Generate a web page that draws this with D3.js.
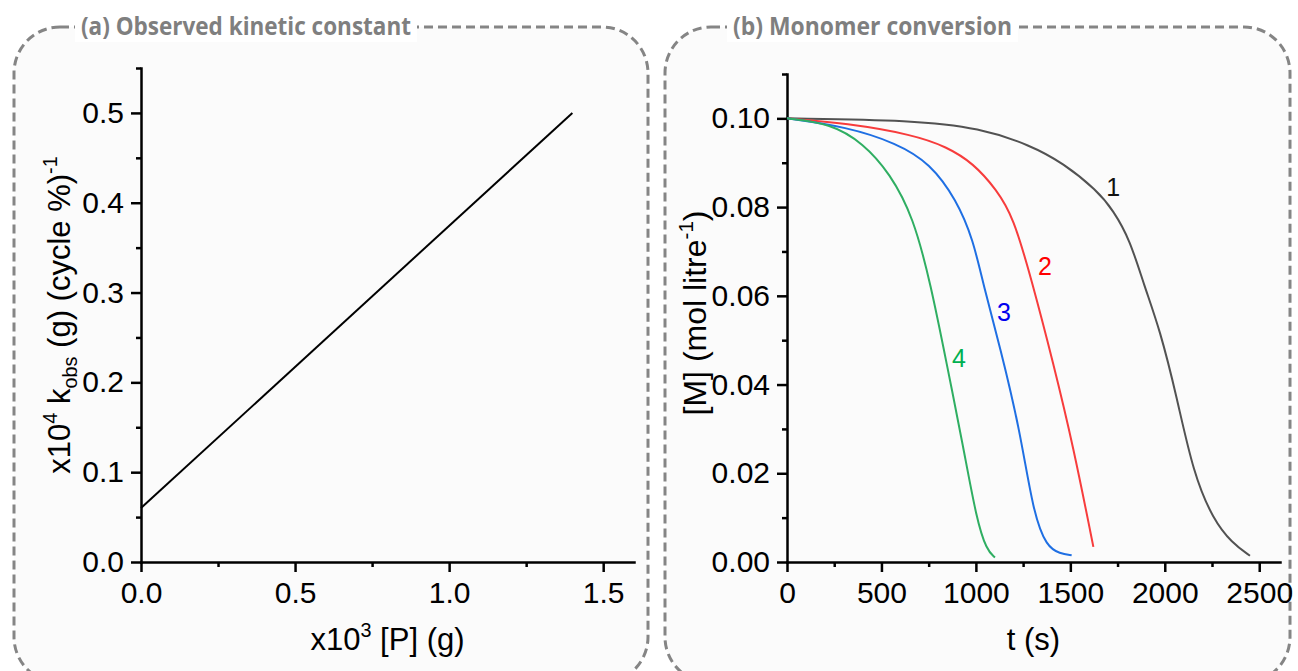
<!DOCTYPE html>
<html>
<head>
<meta charset="utf-8">
<script src="https://cdn.jsdelivr.net/npm/d3@7"></script>
<style>
  html, body { margin: 0; padding: 0; background: #ffffff; }
  svg { display: block; }
  text { font-family: "Liberation Sans", Arial, sans-serif; }
</style>
</head>
<body>
<svg id="chart" width="1298" height="671"></svg>
<script>
// ---------- Panel (a): observed kinetic constant vs. [P] ----------
const kinP = [0.0, 1.4];              // x10^3 [P] (g)
const kinK = [0.06, 0.50];            // x10^4 k_obs
const aXMajor = [0, 0.5, 1.0, 1.5];
const aXMinor = [0.25, 0.75, 1.25];
const aYMajor = [0, 0.1, 0.2, 0.3, 0.4, 0.5];
const aYMinor = [0.05, 0.15, 0.25, 0.35, 0.45, 0.55];

// ---------- Panel (b): monomer concentration vs. time ----------
const curve1T = [0, 669, 1022, 1286, 1463, 1640, 1727, 1816, 1890, 1975, 2063, 2151, 2257, 2356, 2451];
const curve1M = [0.1000, 0.0996, 0.0978, 0.0940, 0.0899, 0.0838, 0.0793, 0.0726, 0.0624, 0.0523, 0.0373, 0.0200, 0.0095, 0.0043, 0.0014];
const curve2T = [0, 316, 669, 845, 986, 1110, 1198, 1295, 1410, 1516, 1622];
const curve2M = [0.1000, 0.0989, 0.0963, 0.0936, 0.0899, 0.0839, 0.0778, 0.0636, 0.0448, 0.0260, 0.0034];
const curve3T = [0, 316, 581, 757, 898, 986, 1040, 1128, 1233, 1304, 1375, 1445, 1507];
const curve3M = [0.1000, 0.0981, 0.0944, 0.0899, 0.0816, 0.0726, 0.0624, 0.0485, 0.0298, 0.0110, 0.0034, 0.0019, 0.0015];
const curve4T = [0, 228, 404, 545, 669, 762, 845, 933, 1004, 1057, 1101];
const curve4M = [0.1000, 0.0989, 0.0944, 0.0876, 0.0778, 0.0624, 0.0448, 0.0260, 0.0095, 0.0027, 0.0010];
const curveNames = ["1", "2", "3", "4"];
const bXMajor = [0, 500, 1000, 1500, 2000, 2500];
const bXMinor = [250, 750, 1250, 1750, 2250];
const bYMajor = [0, 0.02, 0.04, 0.06, 0.08, 0.10];
const bYMinor = [0.01, 0.03, 0.05, 0.07, 0.09, 0.11];

const svg = d3.select("#chart");
const TICK_FS = 30, LABEL_FS = 31;

// ---------- dashed rounded frames with titles ----------
function frame(x0, x1, title, tx, tw) {
  svg.append("rect")
    .attr("x", x0).attr("y", 27)
    .attr("width", x1 - x0).attr("height", 656)
    .attr("rx", 46).attr("ry", 46)
    .attr("fill", "#fbfbfb")
    .attr("stroke", "#858585")
    .attr("stroke-width", 3)
    .attr("stroke-dasharray", "9,5");
  svg.append("rect")
    .attr("x", tx - 6).attr("y", 10)
    .attr("width", tw + 12).attr("height", 32)
    .attr("fill", "#ffffff");
  svg.append("text")
    .attr("x", tx).attr("y", 35)
    .attr("textLength", tw)
    .attr("lengthAdjust", "spacingAndGlyphs")
    .style("font-family", "'Open Sans', 'Noto Sans', sans-serif")
    .style("font-weight", "700")
    .style("font-size", "25px")
    .attr("fill", "#7f7f7f")
    .text(title);
}
frame(14, 648, "(a) Observed kinetic constant", 81, 330);
frame(665, 1290, "(b) Monomer conversion", 733, 279);

// ---------- rich text helper (superscripts / subscripts) ----------
function rich(textSel, parts, fs) {
  let shift = 0;
  parts.forEach(p => {
    const target = p.sup ? -0.42 * fs : p.sub ? 0.22 * fs : 0;
    textSel.append("tspan")
      .attr("dy", target - shift)
      .style("font-size", (p.sup || p.sub) ? (0.64 * fs) + "px" : fs + "px")
      .text(p.t);
    shift = target;
  });
}

// ---------- axis helper ----------
function drawAxes(x, y, xMaj, xMin, yMaj, yMin, xFmt, yFmt) {
  const g = svg.append("g");
  g.append("g").attr("transform", `translate(0,${y.range()[0]})`)
    .call(d3.axisBottom(x).tickValues(xMaj).tickSize(10).tickSizeOuter(0).tickPadding(10).tickFormat(xFmt));
  g.append("g").attr("transform", `translate(0,${y.range()[0]})`)
    .call(d3.axisBottom(x).tickValues(xMin).tickSize(5).tickSizeOuter(0).tickFormat(""))
    .select(".domain").remove();
  g.append("g").attr("transform", `translate(${x.range()[0]},0)`)
    .call(d3.axisLeft(y).tickValues(yMaj).tickSize(10).tickSizeOuter(0).tickPadding(7).tickFormat(yFmt));
  g.append("g").attr("transform", `translate(${x.range()[0]},0)`)
    .call(d3.axisLeft(y).tickValues(yMin).tickSize(5).tickSizeOuter(0).tickFormat(""))
    .select(".domain").remove();
  g.selectAll("path.domain, .tick line")
    .attr("stroke", "#000").attr("stroke-width", 2.5);
  g.selectAll("path.domain").attr("stroke-linecap", "square");
  g.selectAll(".tick text")
    .style("font-family", "'Liberation Sans', Arial, sans-serif")
    .style("font-size", TICK_FS + "px")
    .attr("fill", "#000");
  return g;
}

// ---------- Panel (a) ----------
const xA = d3.scaleLinear().domain([0, 1.6]).range([141, 634]);
const yA = d3.scaleLinear().domain([0, 0.55]).range([562, 68]);
drawAxes(xA, yA, aXMajor, aXMinor, aYMajor, aYMinor, d3.format(".1f"), d3.format(".1f"));

svg.append("path")
  .datum(kinP.map((p, i) => [p, kinK[i]]))
  .attr("fill", "none")
  .attr("stroke", "#000")
  .attr("stroke-width", 2)
  .attr("d", d3.line().x(d => xA(d[0])).y(d => yA(d[1])));

const aXLabel = svg.append("text")
  .attr("x", (xA.range()[0] + xA.range()[1]) / 2).attr("y", 650)
  .attr("text-anchor", "middle").style("font-size", LABEL_FS + "px");
rich(aXLabel, [{t: "x10"}, {t: "3", sup: true}, {t: " [P] (g)"}], LABEL_FS);

const aYLabel = svg.append("text")
  .attr("transform", `translate(70,${(yA.range()[0] + yA.range()[1]) / 2}) rotate(-90)`)
  .attr("text-anchor", "middle").style("font-size", LABEL_FS + "px");
rich(aYLabel, [{t: "x10"}, {t: "4", sup: true}, {t: " k"}, {t: "obs", sub: true},
               {t: " (g) (cycle %)"}, {t: "-1", sup: true}], LABEL_FS);

// ---------- Panel (b) ----------
const xB = d3.scaleLinear().domain([0, 2610]).range([787, 1280]);
const yB = d3.scaleLinear().domain([0, 0.11]).range([562, 74]);
drawAxes(xB, yB, bXMajor, bXMinor, bYMajor, bYMinor, d3.format("d"), d3.format(".2f"));

const series = [
  {name: curveNames[0], t: curve1T, m: curve1M, color: "#525252", labelColor: "#111111", at: [1727, 0.0824]},
  {name: curveNames[1], t: curve2T, m: curve2M, color: "#f73c3c", labelColor: "#ff0000", at: [1366, 0.0646]},
  {name: curveNames[2], t: curve3T, m: curve3M, color: "#1f6fe3", labelColor: "#0000ee", at: [1149, 0.0543]},
  {name: curveNames[3], t: curve4T, m: curve4M, color: "#2fae62", labelColor: "#00b050", at: [911, 0.0439]}
];
const lineB = d3.line().curve(d3.curveBasis).x(d => xB(d[0])).y(d => yB(d[1]));
series.forEach(s => {
  svg.append("path")
    .datum(s.t.map((t, i) => [t, s.m[i]]))
    .attr("fill", "none")
    .attr("stroke", s.color)
    .attr("stroke-width", 2)
    .attr("d", lineB);
  svg.append("text")
    .attr("x", xB(s.at[0])).attr("y", yB(s.at[1]))
    .attr("text-anchor", "middle")
    .style("font-size", "25px")
    .attr("fill", s.labelColor)
    .text(s.name);
});

svg.append("text")
  .attr("x", (xB.range()[0] + xB.range()[1]) / 2).attr("y", 650)
  .attr("text-anchor", "middle").style("font-size", LABEL_FS + "px")
  .text("t (s)");

const bYLabel = svg.append("text")
  .attr("transform", "translate(706,313) rotate(-90)")
  .attr("text-anchor", "middle").style("font-size", "32px");
rich(bYLabel, [{t: "[M] (mol litre"}, {t: "-1", sup: true}, {t: ")"}], 32);
</script>
</body>
</html>
